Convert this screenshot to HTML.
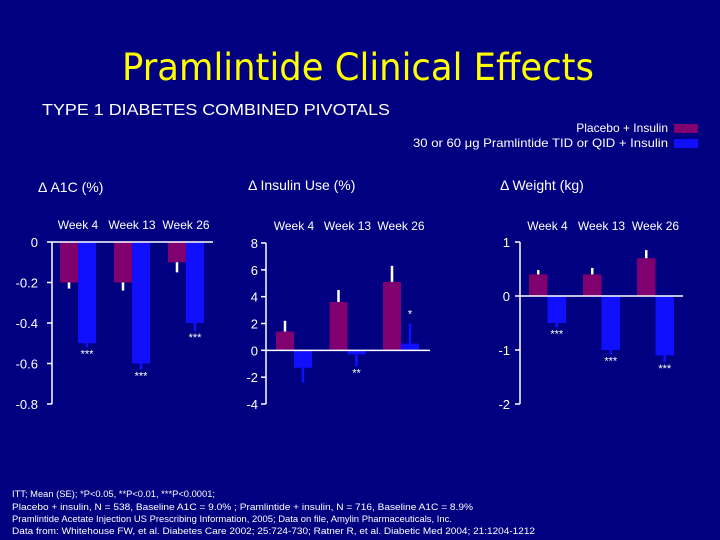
<!DOCTYPE html>
<html><head><meta charset="utf-8"><style>
body{margin:0;background:#000080;}
svg{display:block;font-family:"Liberation Sans",sans-serif;}
</style></head><body>
<svg id="s" width="720" height="540" viewBox="0 0 720 540">
<rect width="720" height="540" fill="#000080"/>
<text x="122" y="80" fill="#ffff00" font-size="37" textLength="472" lengthAdjust="spacingAndGlyphs" font-family="'DejaVu Sans','Liberation Sans',sans-serif">Pramlintide Clinical Effects</text>
<text x="42" y="115" fill="#ffffff" font-size="16" textLength="348" lengthAdjust="spacingAndGlyphs">TYPE 1 DIABETES COMBINED PIVOTALS</text>
<g>
<text x="668" y="132" fill="#fff" font-size="12" text-anchor="end">Placebo + Insulin</text>
<rect x="674" y="124" width="24" height="9" fill="#800070"/>
<text x="413" y="147" fill="#fff" font-size="12" textLength="255" lengthAdjust="spacingAndGlyphs">30 or 60 μg Pramlintide TID or QID + Insulin</text>
<rect x="674" y="139" width="24" height="9" fill="#1010ff"/>
</g>
<text x="38" y="192" fill="#fff" font-size="14">Δ A1C (%)</text>
<text x="248" y="190" fill="#fff" font-size="14">Δ Insulin Use (%)</text>
<text x="500" y="190" fill="#fff" font-size="14">Δ Weight (kg)</text>
<g font-size="9.5" fill="#fff">
<text x="12" y="497" textLength="203" lengthAdjust="spacingAndGlyphs">ITT; Mean (SE); *P&lt;0.05, **P&lt;0.01, ***P&lt;0.0001;</text>
<text x="12" y="510" textLength="461" lengthAdjust="spacingAndGlyphs">Placebo + insulin, N = 538, Baseline A1C = 9.0% ;  Pramlintide + insulin, N = 716, Baseline A1C = 8.9%</text>
<text x="12" y="522" textLength="440" lengthAdjust="spacingAndGlyphs">Pramlintide Acetate Injection US Prescribing Information, 2005;  Data on file, Amylin Pharmaceuticals, Inc.</text>
<text x="12" y="534" textLength="523" lengthAdjust="spacingAndGlyphs">Data from: Whitehouse FW, et al. Diabetes Care 2002; 25:724-730;  Ratner R, et al. Diabetic Med 2004; 21:1204-1212</text>
</g>
</svg>
<script>
const weeks=["Week 4","Week 13","Week 26"];
const a1cPlacebo=[-0.2,-0.2,-0.1];
const a1cPlaceboErr=[-0.23,-0.24,-0.15];
const a1cPram=[-0.5,-0.6,-0.4];
const a1cPramErr=[-0.52,-0.63,-0.44];
const a1cStars=["***","***","***"];
const a1cTicks=[0,-0.2,-0.4,-0.6,-0.8];
const insPlacebo=[1.4,3.6,5.1];
const insPlaceboErr=[2.2,4.5,6.3];
const insPram=[-1.3,-0.3,0.5];
const insPramErr=[-2.4,-1.2,2.0];
const insStars=["","**","*"];
const insTicks=[8,6,4,2,0,-2,-4];
const wtPlacebo=[0.4,0.4,0.7];
const wtPlaceboErr=[0.48,0.52,0.85];
const wtPram=[-0.5,-1.0,-1.1];
const wtPramErr=[-0.58,-1.08,-1.22];
const wtStars=["***","***","***"];
const wtTicks=[1,0,-1,-2];

const NS="http://www.w3.org/2000/svg";
const svg=document.getElementById('s');
function mk(tag,attrs,parent){const e=document.createElementNS(NS,tag);for(const k in attrs)e.setAttribute(k,attrs[k]);parent.appendChild(e);return e;}
function chart(o){
  const g=mk('g',{},svg);
  
  
  const y=v=>o.yTop+(o.max-v)/(o.max-o.min)*(o.yBot-o.yTop);
  const ax=mk('line',{x1:o.ax,x2:o.ax,y1:o.yTop,y2:o.yBot,stroke:'#fff','stroke-width':1.5},g);
  
  
  o.ticks.forEach(t=>{
    const tk=mk('line',{x1:o.ax-5,x2:o.ax,y1:y(t),y2:y(t),stroke:'#fff','stroke-width':1.5},g);
    
    
    const tl=mk('text',{x:o.lx,y:y(t)+5,fill:'#fff','font-size':13,'text-anchor':o.anchor},g);
    tl.textContent=String(t);
    
    
  });
  weeks.forEach((w,i)=>{
    const gx=o.g0+i*o.gs;
    const wl=mk('text',{x:gx+o.bw,y:o.wy,fill:'#fff','font-size':12,'text-anchor':'middle'},g);
    wl.textContent=w;
    
    
    const p=o.p[i],pe=o.pe[i];
    const pb=mk('rect',{x:gx,y:Math.min(y(0),y(p)),width:o.bw,height:Math.abs(y(p)-y(0)),fill:'#800070'},g);
    
    
    const pl=mk('line',{x1:gx+o.bw/2,x2:gx+o.bw/2,y1:y(p),y2:y(pe),stroke:'#fff','stroke-width':2.5},g);
    
    
    const bx=gx+o.bw;
    const q=o.q[i],qe=o.qe[i];
    const qb=mk('rect',{x:bx,y:Math.min(y(0),y(q)),width:o.bw,height:Math.abs(y(q)-y(0)),fill:'#1010ff'},g);
    
    
    const ql=mk('line',{x1:bx+o.bw/2,x2:bx+o.bw/2,y1:y(q),y2:y(qe),stroke:'#1010ff','stroke-width':2.5},g);
    
    
    if(o.stars[i]){
      const sy=q<0?y(qe)+10:y(qe)-6;
      const st=mk('text',{x:bx+o.bw/2,y:sy,fill:'#fff','font-size':11,'text-anchor':'middle'},g);
      st.textContent=o.stars[i];
      
      
    }
  });
  const z=mk('line',{x1:o.ax,x2:o.zx,y1:y(0),y2:y(0),stroke:'#fff','stroke-width':1.5},g);
  
  
}
chart({name:'a1c-chart',ax:52,yTop:242,yBot:404,max:0,min:-0.8,ticks:a1cTicks,lx:38,anchor:'end',g0:60,gs:54,bw:18,wy:229,p:a1cPlacebo,pe:a1cPlaceboErr,q:a1cPram,qe:a1cPramErr,stars:a1cStars,zx:213});
chart({name:'insulin-chart',ax:266,yTop:243,yBot:404,max:8,min:-4,ticks:insTicks,lx:258,anchor:'end',g0:276,gs:53.5,bw:18,wy:230,p:insPlacebo,pe:insPlaceboErr,q:insPram,qe:insPramErr,stars:insStars,zx:430});
chart({name:'weight-chart',ax:520,yTop:242,yBot:404,max:1,min:-2,ticks:wtTicks,lx:510,anchor:'end',g0:529,gs:54,bw:18.5,wy:230,p:wtPlacebo,pe:wtPlaceboErr,q:wtPram,qe:wtPramErr,stars:wtStars,zx:683});
</script>
</body></html>
